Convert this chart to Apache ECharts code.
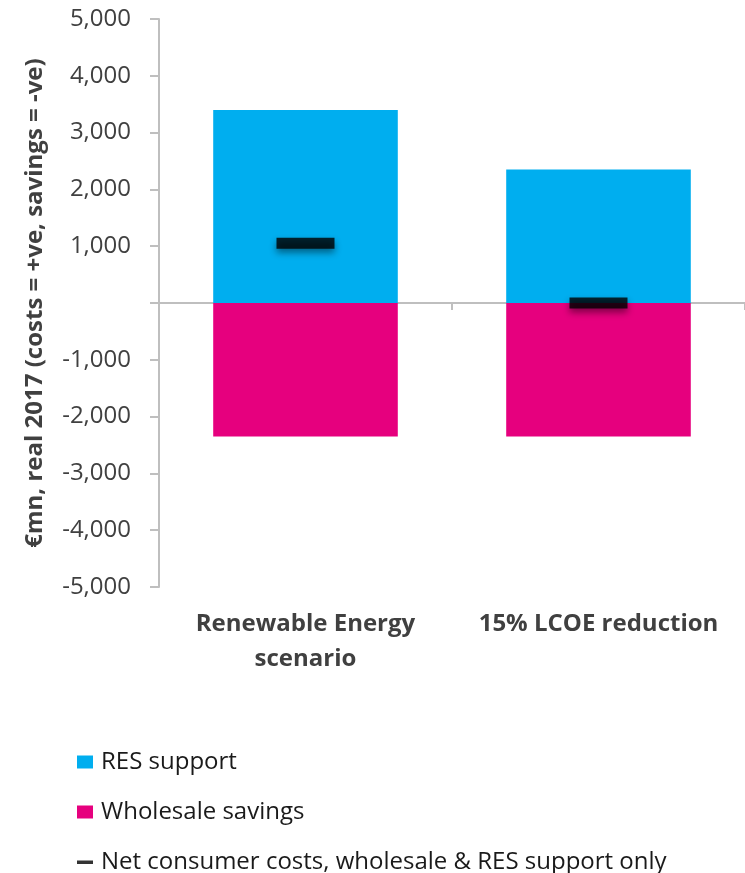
<!DOCTYPE html>
<html>
<head>
<meta charset="utf-8">
<script src="https://cdn.jsdelivr.net/npm/echarts@6/dist/echarts.min.js"></script>
<style>
  html, body { margin: 0; padding: 0; background: #fff; }
  #chart { width: 745px; height: 873px; }
</style>
</head>
<body>
<div id="chart"></div>
<script>
// Scenario categories and cost components (€mn, real 2017)
const categories = ['Renewable Energy\nscenario', '15% LCOE reduction'];
const resSupport = [3400, 2350];
const wholesaleSavings = [-2350, -2350];
const netConsumerCosts = [1050, 0];

// Value axis settings
const yMin = -5000;
const yMax = 5000;
const yStep = 1000;

const seriesNames = ['RES support', 'Wholesale savings', 'Net consumer costs, wholesale & RES support only'];

const FONT = '"Open Sans", "Noto Sans", sans-serif';
const TEXT = '#404040';
const AXIS = '#bfbfbf';

const chart = echarts.init(document.getElementById('chart'), null, { renderer: 'canvas' });

chart.setOption({
  animation: false,
  backgroundColor: '#ffffff',
  grid: { left: 159, width: 590, top: 19, bottom: 286, containLabel: false },
  legend: {
    orient: 'vertical',
    left: 77,
    top: 750,
    width: 668,
    height: 200,
    padding: 0,
    itemWidth: 16,
    itemHeight: 13,
    itemGap: 26,
    selectedMode: false,
    textStyle: { fontFamily: FONT, fontSize: 24, color: '#1a1a1a', padding: [0, 0, 0, 3] },
    data: [
      { name: seriesNames[0], icon: 'rect' },
      { name: seriesNames[1], icon: 'rect' },
      {
        name: seriesNames[2],
        icon: 'path://M0,0L0,0ZM0,5L16,5L16,8.5L0,8.5ZM0,13L0,13Z',
        itemStyle: { color: '#000', shadowBlur: 0, shadowOffsetY: 0 }
      }
    ]
  },
  xAxis: [
    {
      // zero line with category boundary ticks
      type: 'category',
      data: categories,
      axisLine: { show: true, onZero: true, lineStyle: { color: AXIS, width: 2 } },
      axisTick: { show: true, length: 7, lineStyle: { color: AXIS, width: 2 } },
      axisLabel: { show: false },
      splitLine: { show: false }
    },
    {
      // category labels below the plot
      type: 'category',
      data: categories,
      position: 'bottom',
      axisLine: { show: false, onZero: false },
      axisTick: { show: false },
      axisLabel: {
        show: true,
        interval: 0,
        hideOverlap: false,
        margin: 20,
        fontFamily: FONT,
        fontWeight: 'bold',
        fontSize: 24,
        lineHeight: 35,
        color: TEXT,
        verticalAlign: 'top'
      },
      splitLine: { show: false }
    }
  ],
  yAxis: {
    type: 'value',
    min: yMin,
    max: yMax,
    interval: yStep,
    name: '€mn, real 2017 (costs = +ve, savings = -ve)',
    nameLocation: 'middle',
    nameRotate: 90,
    nameGap: 112,
    nameTextStyle: { fontFamily: FONT, fontWeight: 'bold', fontSize: 24, color: TEXT },
    axisLine: { show: true, lineStyle: { color: AXIS, width: 2 } },
    axisTick: { show: true, length: 9, lineStyle: { color: AXIS, width: 2 } },
    axisLabel: {
      margin: 28,
      fontFamily: FONT,
      fontSize: 24,
      color: TEXT,
      formatter: v => (v === 0 ? '' : v.toLocaleString('en-US'))
    },
    splitLine: { show: false }
  },
  series: [
    {
      name: seriesNames[0],
      type: 'bar',
      stack: 'cost',
      barCategoryGap: '37%',
      data: resSupport,
      itemStyle: { color: '#00aeef' },
      z: 2
    },
    {
      name: seriesNames[1],
      type: 'bar',
      stack: 'cost',
      barCategoryGap: '37%',
      data: wholesaleSavings,
      itemStyle: { color: '#e6007e' },
      z: 2
    },
    {
      name: seriesNames[2],
      type: 'scatter',
      data: netConsumerCosts,
      symbol: 'rect',
      symbolSize: [58, 11],
      itemStyle: {
        color: '#000000',
        shadowColor: 'rgba(0,0,0,0.55)',
        shadowBlur: 7,
        shadowOffsetY: 4
      },
      z: 5
    }
  ]
});
</script>
</body>
</html>
